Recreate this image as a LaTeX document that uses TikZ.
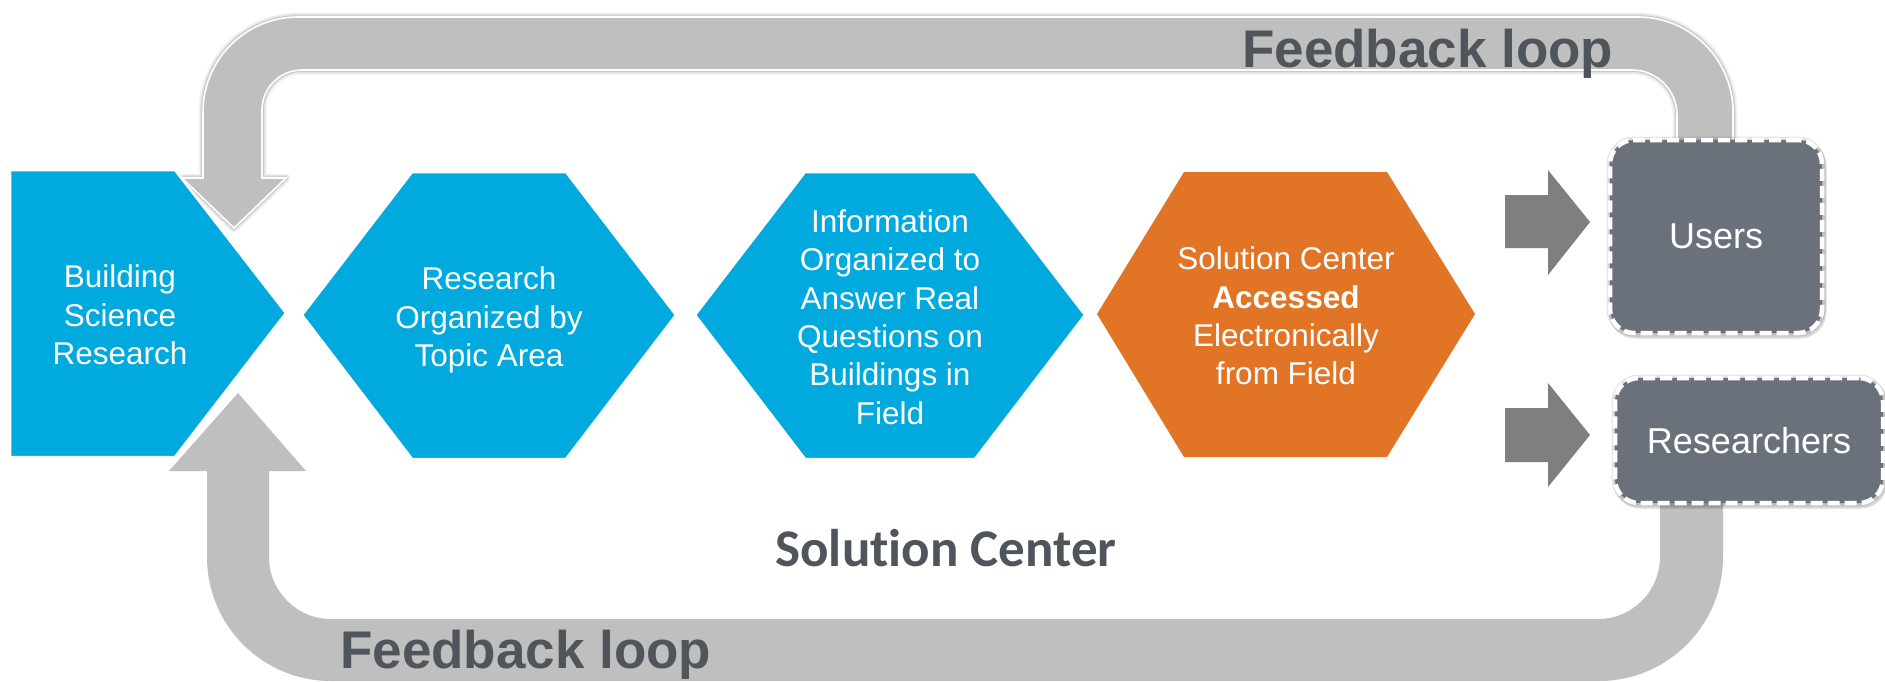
\documentclass[tikz,border=0pt]{standalone}
\usepackage{fontspec}
\setmainfont{Liberation Sans}
\newfontfamily\carlito[Ligatures=NoCommon]{Carlito}
\usetikzlibrary{shadows}
\definecolor{cblue}{HTML}{00AADF}
\definecolor{corange}{HTML}{E27425}
\definecolor{cbox}{HTML}{6B717B}
\definecolor{cdark}{HTML}{50555C}
\definecolor{cloop}{HTML}{BFBFBF}
\definecolor{carrow}{HTML}{7F7F7F}
\begin{document}
\begin{tikzpicture}[x=1pt,y=-1pt,
  glowloop/.style={fill=cloop, draw=white, line width=1.6pt, line join=miter,
    preaction={draw=black, opacity=0.05, line width=9pt, line join=round},
    preaction={draw=black, opacity=0.07, line width=6pt, line join=round},
    preaction={draw=black, opacity=0.10, line width=3.5pt, line join=round}},
  plainloop/.style={fill=cloop},
  shapeblue/.style={fill=cblue, draw=white, line width=2.5pt, line join=miter},
  shapeorange/.style={fill=corange},
  hextext/.style={text=white, align=center, inner sep=0pt, font=\fontsize{31.5}{38.4}\selectfont},
  loopname/.style={text=cdark, inner sep=0pt, font=\fontsize{53}{60}\selectfont\bfseries},
  blockarrow/.style={fill=carrow},
  endbox/.style={rounded corners=24pt, fill=cbox, draw=white, line width=4.5pt,
    dash pattern=on 12pt off 5pt, text=white, inner sep=0pt,
    font=\fontsize{36}{40}\selectfont,
    preaction={draw=black, opacity=0.10, line width=7pt, dash pattern=, line join=round},
    preaction={draw=black, opacity=0.15, line width=6pt, dash pattern=, line join=round,
      transform canvas={xshift=1.5pt, yshift=-2.5pt}}}]
\useasboundingbox (0,0) rectangle (1885,681);
\fill[white] (0,0) rectangle (1885,681);

% top feedback loop
\path[glowloop] (1733,150) -- (1733,112)
  .. controls (1733,59.5) and (1690.5,17) .. (1638,17) -- (298,17)
  .. controls (245.5,17) and (203,59.5) .. (203,112) -- (203,178)
  -- (182,178) -- (234,228) -- (286,178) -- (262,178) -- (262,110)
  .. controls (262,87.9) and (279.9,70) .. (302,70) -- (1632,70)
  .. controls (1656.9,70) and (1677,90.1) .. (1677,115) -- (1677,150) -- cycle;

% bottom feedback loop
\path[plainloop] (238,393) -- (306,471) -- (269,471) -- (269,557)
  .. controls (269,591.2) and (296.8,619) .. (331,619) -- (1598,619)
  .. controls (1632.2,619) and (1660,591.2) .. (1660,557) -- (1660,495)
  -- (1723,495) -- (1723,557)
  .. controls (1723,625.5) and (1667.5,681) .. (1599,681) -- (331,681)
  .. controls (262.5,681) and (207,625.5) .. (207,557) -- (207,471)
  -- (169,471) -- cycle;

\node[loopname, anchor=base west] (fbtop) at (1242,67) {Feedback loop};
\node[loopname, anchor=base west] (fbbot) at (340,668) {Feedback loop};

% process shapes
\path[shapeblue] (10,170) -- (175,170) -- (286,313) -- (175,457) -- (10,457) -- cycle;
\path[shapeblue] (302,315) -- (412,172) -- (566,172) -- (676,315) -- (566,459) -- (412,459) -- cycle;
\path[shapeblue] (695,315) -- (805,172) -- (975,172) -- (1085,315) -- (975,459) -- (805,459) -- cycle;
\path[shapeorange] (1097,314) -- (1184,172) -- (1387,172) -- (1475,314) -- (1387,457) -- (1184,457) -- cycle;

\node[hextext] (bsr) at (120,315) {Building\\Science\\Research};
\node[hextext] (rot) at (489,320) {Research\\Organized by\\Topic Area};
\node[hextext] (info) at (890,317) {Information\\Organized to\\Answer Real\\Questions on\\Buildings in\\Field};
\node[hextext] (sca) at (1286,316) {Solution Center\\\textbf{Accessed}\\Electronically\\from Field};

\node[text=cdark, inner sep=0pt, anchor=base, font=\carlito\bfseries\fontsize{53}{60}\selectfont] (sc) at (946,566) {Solution Center};

% block arrows
\path[blockarrow] (1505,195) -- (1548,195) -- (1548,170) -- (1590,222) -- (1548,275) -- (1548,248) -- (1505,248) -- cycle;
\path[blockarrow] (1505,408) -- (1548,408) -- (1548,383) -- (1590,435) -- (1548,487) -- (1548,462) -- (1505,462) -- cycle;

% end boxes
\node[endbox, minimum width=212pt, minimum height=193pt] (users) at (1716,236.5) {Users};
\node[endbox, minimum width=268pt, minimum height=125pt] (res) at (1749,440.5) {Researchers};
\end{tikzpicture}
\end{document}
